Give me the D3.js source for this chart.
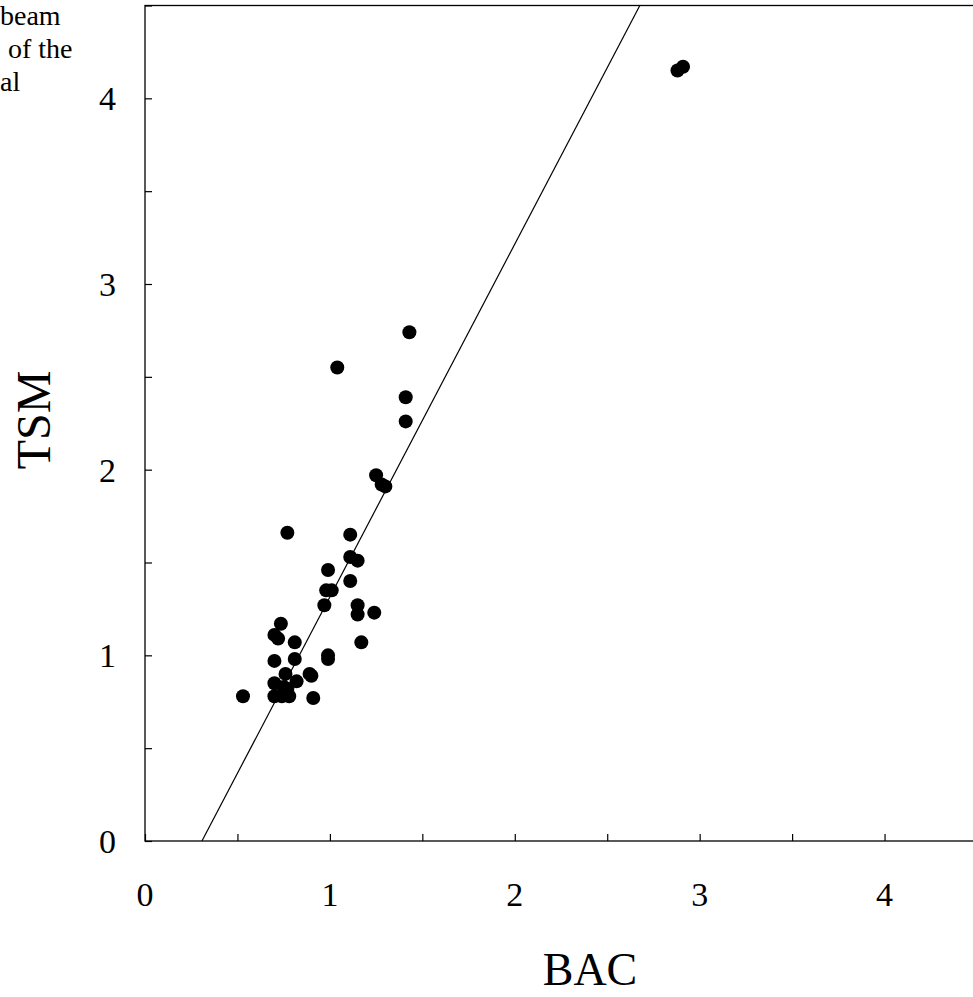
<!DOCTYPE html><html><head><meta charset="utf-8"><script src="https://cdn.jsdelivr.net/npm/d3@7"></script>
<style>body{margin:0;background:#fff}text{font-family:"Liberation Serif","Times New Roman",serif}</style></head><body><svg id="c" width="973" height="997"></svg><script>
const bac=[0.53,1.04,1.43,1.41,1.41,1.25,1.28,1.30,0.77,1.11,1.11,1.15,1.11,0.99,0.98,1.01,0.97,1.15,1.15,1.24,1.17,0.735,0.70,0.72,0.81,0.99,0.99,0.70,0.81,0.76,0.89,0.90,0.70,0.82,0.75,0.77,0.70,0.74,0.78,0.91,2.88,2.91];
const tsm=[0.78,2.55,2.74,2.39,2.26,1.97,1.92,1.91,1.66,1.65,1.53,1.51,1.40,1.46,1.35,1.35,1.27,1.27,1.22,1.23,1.07,1.17,1.11,1.09,1.07,1.00,0.98,0.97,0.98,0.90,0.90,0.89,0.85,0.86,0.83,0.82,0.78,0.78,0.78,0.77,4.15,4.17];
const ticks=[0,1,2,3,4];
const fitLine={x0:0.308,slope:1.9};
const caption=["beam","of the","al"];
const svg=d3.select("#c");
const x=d3.scaleLinear().domain([0,4.5]).range([145,977]);
const y=d3.scaleLinear().domain([0,4.5]).range([841,5.5]);
svg.append("rect").attr("x",145).attr("y",5.5).attr("width",832).attr("height",835.5).attr("fill","none").attr("stroke","#000").attr("stroke-width",1.3);
const xa=svg.append("g").attr("transform","translate(0,841)").call(d3.axisTop(x).tickValues(d3.range(0,4.6,0.5)).tickSize(7).tickFormat(""));
const ya=svg.append("g").attr("transform","translate(145,0)").call(d3.axisRight(y).tickValues(d3.range(0,4.6,0.5)).tickSize(7).tickFormat(""));
[xa,ya].forEach(a=>{a.select(".domain").remove();a.selectAll("line").attr("stroke","#000").attr("stroke-width",1.2);});
svg.selectAll(".xl").data(ticks).join("text").attr("x",d=>x(d)).attr("y",906).attr("text-anchor","middle").attr("font-size",34).text(d=>d);
svg.selectAll(".yl").data(ticks).join("text").attr("x",116).attr("y",d=>y(d)+12).attr("text-anchor","end").attr("font-size",34).text(d=>d);
svg.append("text").attr("x",590).attr("y",985).attr("text-anchor","middle").attr("font-size",46).text("BAC");
svg.append("text").attr("transform","translate(50,420) rotate(-90)").attr("text-anchor","middle").attr("font-size",48).text("TSM");
const xe=fitLine.x0+4.5/fitLine.slope;
svg.append("line").attr("x1",x(fitLine.x0)).attr("y1",y(0)).attr("x2",x(xe)).attr("y2",y(4.5)).attr("stroke","#000").attr("stroke-width",1.2);
svg.selectAll("circle").data(bac.map((b,i)=>[b,tsm[i]])).join("circle").attr("cx",d=>x(d[0])).attr("cy",d=>y(d[1])).attr("r",7).attr("fill","#000");
svg.selectAll(".cap").data(caption).join("text").attr("x",(d,i)=>[0,8,0][i]).attr("y",(d,i)=>25+i*33).attr("font-size",28).text(d=>d);
</script></body></html>
